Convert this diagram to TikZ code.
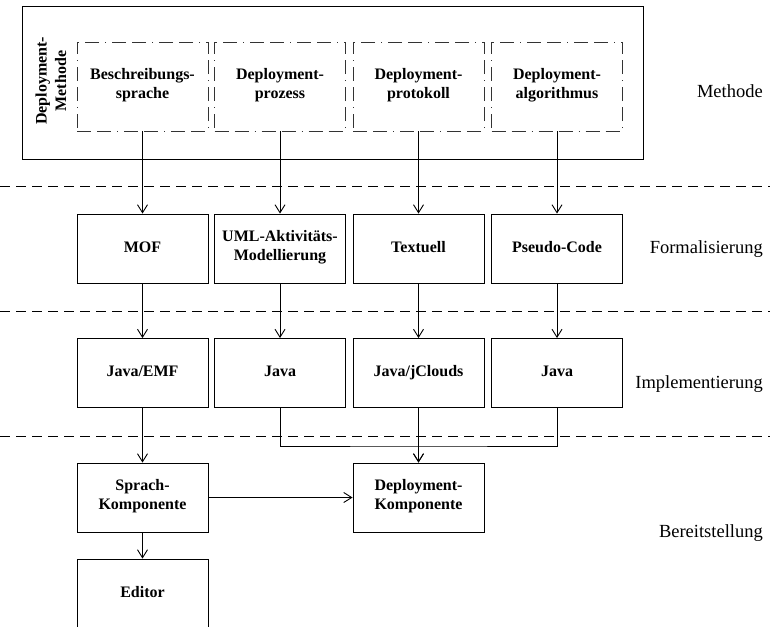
\documentclass[tikz,border=0pt]{standalone}
\usepackage{fontspec}
\setmainfont{Liberation Serif}
\usetikzlibrary{arrows.meta}
\begin{document}
\begin{tikzpicture}[x=1pt,y=-1pt,
  box/.style={draw, line width=0.9pt, minimum width=131pt, minimum height=69pt, inner sep=0pt, align=center, font=\fontsize{16}{19.5}\selectfont\bfseries, execute at begin node={\strut}, execute at end node={\strut}},
  mbox/.style={box, draw=black!80, dash pattern=on 14pt off 6pt on 14pt off 6pt on 1pt off 6pt, minimum height=89pt},
  sepline/.style={line width=0.9pt, dash pattern=on 10pt off 6pt},
  lay/.style={anchor=east, inner sep=0pt, font=\fontsize{18.5}{22}\selectfont},
  arr/.style={line width=0.9pt, -{Straight Barb[length=8pt,width=10pt,line width=0.9pt]}},
  ln/.style={line width=0.9pt}]
\useasboundingbox (0,0) rectangle (770,626);

% separators
\draw[sepline] (0,186) -- (770,186);
\draw[sepline] (0,311) -- (770,311);
\draw[sepline] (0,436) -- (770,436);

% outer method box
\node[draw, line width=1pt, minimum width=621pt, minimum height=152pt, inner sep=0pt] (outer) at (332.5,83) {};
\node[rotate=90, align=center, inner sep=0pt, font=\fontsize{16}{19.5}\selectfont\bfseries] (dm) at (51,81) {Deployment-\\Methode};

% row 1
\node[mbox] (b1) at (142.5,86.5) {Beschreibungs-\\sprache};
\node[mbox] (b2) at (280,86.5) {Deployment-\\prozess};
\node[mbox] (b3) at (418.5,86.5) {Deployment-\\protokoll};
\node[mbox] (b4) at (557,86.5) {Deployment-\\algorithmus};

% row 2
\node[box] (f1) at (142.5,248.5) {MOF};
\node[box] (f2) at (280,248.5) {UML-Aktivitäts-\\Modellierung};
\node[box] (f3) at (418.5,248.5) {Textuell};
\node[box] (f4) at (557,248.5) {Pseudo-Code};

% row 3
\node[box] (i1) at (142.5,373) {Java/EMF};
\node[box] (i2) at (280,373) {Java};
\node[box] (i3) at (418.5,373) {Java/jClouds};
\node[box] (i4) at (557,373) {Java};

% row 4
\node[box] (s) at (142.5,497.5) {Sprach-\\Komponente};
\node[box] (d) at (418.5,497.5) {Deployment-\\Komponente};
\node[box] (e) at (142.5,593.5) {Editor};

% layer labels
\node[lay] (l1) at (763,91) {Methode};
\node[lay] (l2) at (763,249) {Formalisierung};
\node[lay] (l3) at (763,384) {Implementierung};
\node[lay] (l4) at (763,533) {Bereitstellung};

% connectors
\draw[arr] (b1) -- (f1);
\draw[arr] (b2) -- (f2);
\draw[arr] (b3) -- (f3);
\draw[arr] (b4) -- (f4);
\draw[arr] (f1) -- (i1);
\draw[arr] (f2) -- (i2);
\draw[arr] (f3) -- (i3);
\draw[arr] (f4) -- (i4);
\draw[arr] (i1) -- (s);
\coordinate (j) at (418.5,446);
\draw[ln] (i2.south) |- (j) -| (i4.south);
\draw[arr] (i3) -- (d);
\draw[arr] (j) -- (d);
\draw[arr] (s) -- (d);
\draw[arr] (s) -- (e);
\end{tikzpicture}
\end{document}
